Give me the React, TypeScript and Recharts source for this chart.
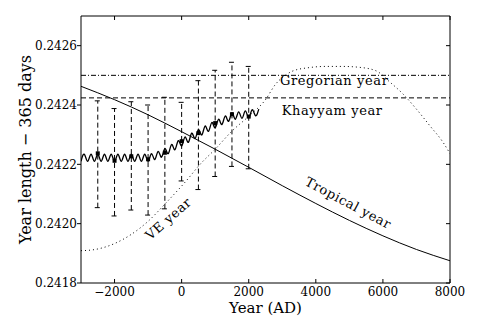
import React from "react";
import {
  ComposedChart,
  Line,
  Scatter,
  ErrorBar,
  XAxis,
  YAxis,
  ReferenceLine,
  ReferenceDot,
} from "recharts";

// ---- data ----
const X_TICKS = [-2000, 0, 2000, 4000, 6000, 8000];
const Y_TICKS = [0.2418, 0.242, 0.2422, 0.2424, 0.2426];

const GREGORIAN = 0.2425;
const KHAYYAM = 0.242424;

const TROP_YEARS = [-3000, -2000, -1000, 0, 1000, 2000, 3000, 4000, 5000, 6000, 7000, 8000];
const TROP_VALUES = [
  0.242463, 0.242418, 0.242367, 0.24231, 0.242251, 0.24219, 0.242128, 0.242068,
  0.242011, 0.241959, 0.241913, 0.241875,
];

const VE_YEARS = [
  -3000, -2700, -2000, -1000, -450, 150, 550, 1000, 1500, 2000, 2500, 2800, 3100,
  3300, 3800, 4300, 4800, 5300, 5800, 6200, 6600, 7000, 7400, 7800, 8000,
];
const VE_VALUES = [
  0.241909, 0.241911, 0.241933, 0.242008, 0.242072, 0.242146, 0.2422, 0.242251,
  0.242312, 0.242362, 0.242418, 0.24247, 0.242501, 0.242514, 0.242526, 0.24253,
  0.24253, 0.242527, 0.242515, 0.242478, 0.242437, 0.242386, 0.24233, 0.242273,
  0.242236,
];

const WIG_YEARS = [
  -3000, -2900, -2800, -2700, -2600, -2500, -2400, -2300, -2200, -2100, -2000, -1900,
  -1800, -1700, -1600, -1500, -1400, -1300, -1200, -1100, -1000, -900, -800, -700,
  -600, -500, -400, -300, -200, -100, 0, 100, 200, 300, 400, 500, 600, 700, 800, 900,
  1000, 1100, 1200, 1300, 1400, 1500, 1600, 1700, 1800, 1900, 2000, 2100, 2200, 2300,
];
const WIG_VALUES = [
  0.24221, 0.242234, 0.24221, 0.242234, 0.24221, 0.242234, 0.24221, 0.242234,
  0.24221, 0.242234, 0.24221, 0.242234, 0.24221, 0.242234, 0.24221, 0.242234,
  0.24221, 0.242234, 0.24221, 0.242234, 0.24221, 0.242236, 0.242216, 0.242244,
  0.242224, 0.242253, 0.242236, 0.242267, 0.242249, 0.24228, 0.242262, 0.242292,
  0.242274, 0.242305, 0.242287, 0.242317, 0.242299, 0.242329, 0.242311, 0.242341,
  0.242323, 0.242352, 0.242334, 0.242363, 0.242345, 0.242374, 0.242352, 0.242377,
  0.242355, 0.24238, 0.242357, 0.242384, 0.242364, 0.242386,
];

const BAR_YEARS = [-2500, -2000, -1500, -1000, -500, 0, 500, 1000, 1500, 2000];
const BAR_MARK = [
  0.242237, 0.242212, 0.242227, 0.242217, 0.242239, 0.242278, 0.242305, 0.242339,
  0.242369, 0.242361,
];
const BAR_HIGH = [
  0.242414, 0.242388, 0.242411, 0.2424, 0.242426, 0.242409, 0.242482, 0.242517,
  0.242544, 0.24253,
];
const BAR_LOW = [
  0.242054, 0.242026, 0.242046, 0.242029, 0.24205, 0.242144, 0.242115, 0.242159,
  0.242193, 0.242185,
];

const tropData = TROP_YEARS.map((year, i) => ({ year, v: TROP_VALUES[i] }));
const veData = VE_YEARS.map((year, i) => ({ year, v: VE_VALUES[i] }));
const wigData = WIG_YEARS.map((year, i) => ({ year, v: WIG_VALUES[i] }));
const barData = BAR_YEARS.map((year, i) => ({
  year,
  v: BAR_MARK[i],
  err: [BAR_MARK[i] - BAR_LOW[i], BAR_HIGH[i] - BAR_MARK[i]],
}));

const FONT = "'DejaVu Serif', serif";

const fmtX = (v: number) => (v < 0 ? "\u2212" + Math.abs(v) : String(v));

const BottomTick = (p: any) => {
  const { x, y, payload } = p;
  return (
    <g>
      <line x1={x} x2={x} y1={y} y2={y - 4} stroke="#000" />
      <text x={x} y={y + 13} textAnchor="middle" fontSize={12} fontFamily={FONT} fill="#000">
        {fmtX(payload.value)}
      </text>
    </g>
  );
};
const TopTick = (p: any) => {
  const { x, y } = p;
  return <line x1={x} x2={x} y1={y} y2={y + 4} stroke="#000" />;
};
const LeftTick = (p: any) => {
  const { x, y, payload } = p;
  return (
    <g>
      <line x1={x} x2={x - 4} y1={y} y2={y} stroke="#000" />
      <text x={x - 4} y={y + 4.3} textAnchor="end" fontSize={12} fontFamily={FONT} fill="#000">
        {Number(payload.value).toFixed(4)}
      </text>
    </g>
  );
};
const RightTick = (p: any) => {
  const { x, y } = p;
  return <line x1={x} x2={x - 4} y1={y} y2={y} stroke="#000" />;
};

const XTitle = (p: any) => {
  const vb = p.viewBox || {};
  const cx = vb.x + vb.width / 2;
  return (
    <text x={cx} y={vb.y + 30} textAnchor="middle" fontSize={15} fontFamily={FONT} fill="#000">
      Year (AD)
    </text>
  );
};
const YTitle = (p: any) => {
  const vb = p.viewBox || {};
  const cy = vb.y + vb.height / 2;
  const x = 31;
  return (
    <text
      x={x}
      y={cy}
      textAnchor="middle"
      fontSize={16}
      fontFamily={FONT}
      fill="#000"
      transform={`rotate(-90 ${x} ${cy})`}
    >
      Year length {"\u2212"} 365 days
    </text>
  );
};

const Anno = (p: any) => {
  const vb = p.viewBox || {};
  const x = vb.x + (vb.width || 0) / 2;
  const y = vb.y + (vb.height || 0) / 2;
  return (
    <text
      x={x}
      y={y}
      textAnchor={p.anchor}
      dominantBaseline={p.baseline}
      fontSize={13}
      letterSpacing={0.6}
      fontFamily={FONT}
      fill="#000"
      transform={p.rot ? `rotate(${p.rot} ${x} ${y})` : undefined}
    >
      {p.text}
    </text>
  );
};

const Marker = (p: any) => <rect x={p.cx - 2} y={p.cy - 2} width={4} height={4} fill="#000" />;

export default function App() {
  return (
    <div style={{ position: "absolute", left: 0, top: 0, background: "#fff" }}>
      <ComposedChart width={500} height={333} margin={{ top: 15, right: 49, bottom: 49, left: 80 }}>
        <XAxis
          dataKey="year"
          type="number"
          domain={[-3000, 8000]}
          ticks={X_TICKS}
          allowDataOverflow
          height={1}
          tickSize={0}
          tickMargin={0}
          tickLine={false}
          tick={(p: any) => <BottomTick {...p} />}
          axisLine={{ stroke: "#000" }}
          label={<XTitle />}
        />
        <XAxis
          xAxisId="top"
          orientation="top"
          dataKey="year"
          type="number"
          domain={[-3000, 8000]}
          ticks={X_TICKS}
          allowDataOverflow
          height={1}
          tickSize={0}
          tickMargin={0}
          tickLine={false}
          tick={(p: any) => <TopTick {...p} />}
          axisLine={{ stroke: "#000" }}
        />
        <YAxis
          type="number"
          domain={[0.2418, 0.2427]}
          ticks={Y_TICKS}
          allowDataOverflow
          width={1}
          tickSize={0}
          tickMargin={0}
          tickLine={false}
          tick={(p: any) => <LeftTick {...p} />}
          axisLine={{ stroke: "#000" }}
          label={<YTitle />}
        />
        <YAxis
          yAxisId="right"
          orientation="right"
          type="number"
          domain={[0.2418, 0.2427]}
          ticks={Y_TICKS}
          allowDataOverflow
          width={1}
          tickSize={0}
          tickMargin={0}
          tickLine={false}
          tick={(p: any) => <RightTick {...p} />}
          axisLine={{ stroke: "#000" }}
        />

        <ReferenceLine y={GREGORIAN} stroke="#000" strokeDasharray="5 2 1 2" />
        <ReferenceLine y={KHAYYAM} stroke="#000" strokeDasharray="5 3" />

        <Line
          data={tropData}
          dataKey="v"
          type="monotone"
          stroke="#000"
          strokeWidth={1}
          dot={false}
          isAnimationActive={false}
        />
        <Line
          data={veData}
          dataKey="v"
          type="monotone"
          stroke="#000"
          strokeWidth={1}
          strokeDasharray="1 3"
          dot={false}
          isAnimationActive={false}
        />
        <Line
          data={wigData}
          dataKey="v"
          type="natural"
          stroke="#000"
          strokeWidth={1.3}
          dot={false}
          isAnimationActive={false}
        />
        <Scatter data={barData} dataKey="v" shape={<Marker />} isAnimationActive={false}>
          <ErrorBar
            dataKey="err"
            direction="y"
            width={3}
            stroke="#000"
            strokeWidth={1}
            strokeDasharray="5 3"
            isAnimationActive={false}
          />
        </Scatter>

        <ReferenceDot
          x={2932}
          y={0.242469}
          r={0}
          fill="none"
          stroke="none"
          label={<Anno text="Gregorian year" anchor="start" baseline="auto" />}
        />
        <ReferenceDot
          x={2983}
          y={0.242366}
          r={0}
          fill="none"
          stroke="none"
          label={<Anno text="Khayyam year" anchor="start" baseline="auto" />}
        />
        <ReferenceDot
          x={4968}
          y={0.24207}
          r={0}
          fill="none"
          stroke="none"
          label={<Anno text="Tropical year" anchor="middle" baseline="central" rot={28} />}
        />
        <ReferenceDot
          x={-397}
          y={0.242017}
          r={0}
          fill="none"
          stroke="none"
          label={<Anno text="VE year" anchor="middle" baseline="central" rot={-41.5} />}
        />
      </ComposedChart>
    </div>
  );
}
